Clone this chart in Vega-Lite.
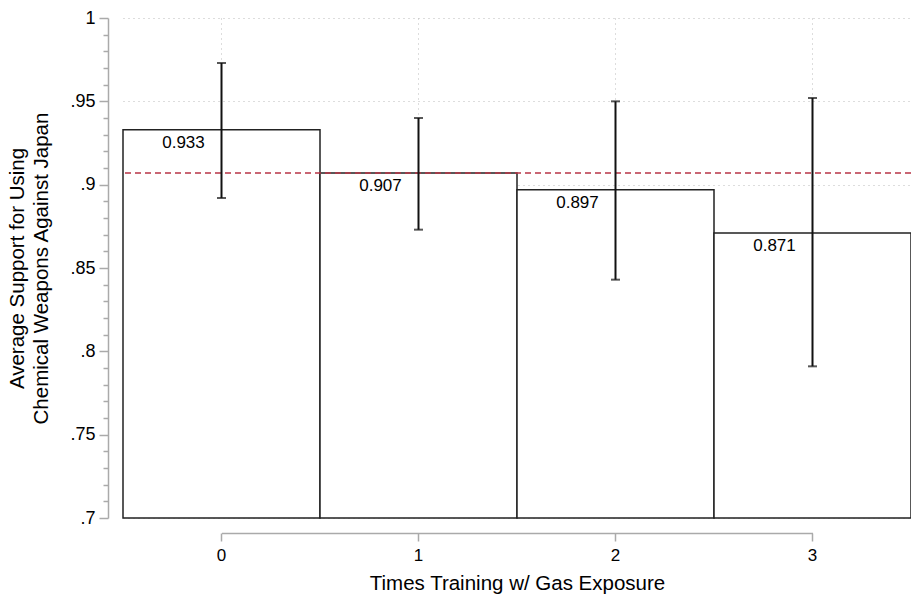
{
  "$schema": "https://vega.github.io/schema/vega-lite/v6.json",
  "width": 788,
  "height": 500,
  "autosize": {"type": "none"},
  "padding": {"left": 123, "top": 18, "right": 0, "bottom": 83},
  "background": "white",
  "config": {
    "view": {"stroke": null},
    "font": "Liberation Sans",
    "axis": {"labelFont": "Liberation Sans", "titleFont": "Liberation Sans", "labelColor": "black", "titleColor": "black", "titleFontWeight": "normal"}
  },
  "data": {"values": [
    {"t": "0", "mean": 0.933, "lo": 0.892, "hi": 0.973, "lab": "0.933"},
    {"t": "1", "mean": 0.907, "lo": 0.873, "hi": 0.940, "lab": "0.907"},
    {"t": "2", "mean": 0.897, "lo": 0.843, "hi": 0.950, "lab": "0.897"},
    {"t": "3", "mean": 0.871, "lo": 0.791, "hi": 0.952, "lab": "0.871"}
  ]},
  "layer": [
    {
      "mark": {"type": "bar", "fill": "white", "stroke": "#222", "strokeWidth": 1.5},
      "encoding": {
        "x": {"field": "t", "type": "ordinal", "sort": null,
          "scale": {"paddingInner": 0, "paddingOuter": 0},
          "axis": {"title": "Times Training w/ Gas Exposure", "titleFontSize": 20.5, "titlePadding": 10, "labelFontSize": 17, "labelAngle": 0, "labelPadding": 6,
            "offset": 15, "domainColor": "#aaa", "domainWidth": 1.5, "domainDash": [591, 197], "domainDashOffset": 689.5,
            "tickColor": "#aaa", "tickWidth": 1.5, "tickSize": 8,
            "grid": true, "gridDash": [1, 4], "gridColor": "#bbb", "gridWidth": 1}},
        "y": {"field": "mean", "type": "quantitative",
          "scale": {"domain": [0.7, 1], "zero": false, "nice": false},
          "axis": {"orient": "left", "values": [0.7, 0.75, 0.8, 0.85, 0.9, 0.95, 1],
            "labelExpr": "replace(format(datum.value, '.2~f'), '0.', '.')",
            "title": ["Average Support for Using", "Chemical Weapons Against Japan"], "titleFontSize": 20.5, "titleLineHeight": 24, "titlePadding": 18,
            "labelFontSize": 18, "labelPadding": 4,
            "offset": 15, "domainColor": "#aaa", "domainWidth": 1.5, "tickColor": "#aaa", "tickWidth": 1.5, "tickSize": 9,
            "grid": true, "gridDash": [1, 4], "gridColor": "#bbb", "gridWidth": 1}},
        "y2": {"datum": 0.7}
      }
    },
    {
      "mark": {"type": "tick", "color": "#aaa", "opacity": 0},
      "encoding": {
        "y": {"field": "mean", "type": "quantitative",
          "axis": {"orient": "left", "values": [0.71, 0.72, 0.73, 0.74, 0.76, 0.77, 0.78, 0.79, 0.81, 0.82, 0.83, 0.84, 0.86, 0.87, 0.88, 0.89, 0.91, 0.92, 0.93, 0.94, 0.96, 0.97, 0.98, 0.99],
            "labels": false, "title": null, "grid": false, "domain": false,
            "offset": 15, "tickColor": "#aaa", "tickWidth": 1.5, "tickSize": 5}}
      }
    },
    {
      "mark": {"type": "rule", "color": "#b83545", "strokeDash": [6, 4], "strokeWidth": 1.5},
      "data": {"values": [{"ref": 0.907}]},
      "encoding": {"y": {"field": "ref", "type": "quantitative", "axis": null}}
    },
    {
      "mark": {"type": "rule", "color": "#111", "strokeWidth": 2},
      "encoding": {
        "x": {"field": "t", "type": "ordinal", "sort": null},
        "y": {"field": "lo", "type": "quantitative", "axis": null},
        "y2": {"field": "hi"}
      }
    },
    {
      "mark": {"type": "tick", "color": "#111", "thickness": 2, "size": 9},
      "encoding": {
        "x": {"field": "t", "type": "ordinal", "sort": null},
        "y": {"field": "lo", "type": "quantitative", "axis": null}
      }
    },
    {
      "mark": {"type": "tick", "color": "#111", "thickness": 2, "size": 9},
      "encoding": {
        "x": {"field": "t", "type": "ordinal", "sort": null},
        "y": {"field": "hi", "type": "quantitative", "axis": null}
      }
    },
    {
      "mark": {"type": "text", "fontSize": 17, "color": "black", "baseline": "top", "dx": -38, "dy": 5},
      "encoding": {
        "x": {"field": "t", "type": "ordinal", "sort": null},
        "y": {"field": "mean", "type": "quantitative", "axis": null},
        "text": {"field": "lab"}
      }
    }
  ],
  "resolve": {"axis": {"y": "independent"}}
}
